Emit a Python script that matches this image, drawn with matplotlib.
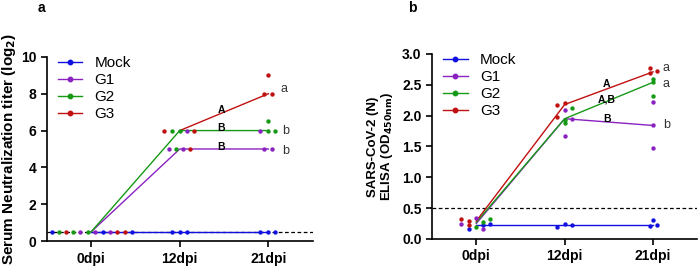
import matplotlib
matplotlib.use('Agg')
import matplotlib.pyplot as plt
from matplotlib.lines import Line2D

plt.rcParams['font.family'] = ['Liberation Sans', 'DejaVu Sans']

days = ['0dpi', '12dpi', '21dpi']
groups = ['Mock', 'G1', 'G2', 'G3']
colors = {'Mock': '#1010e0', 'G1': '#8a22c2', 'G2': '#169a16', 'G3': '#c01010'}

# panel a: neutralization titer (log2), line = group value, dots = animals
titer_line = {
    'Mock': [0.5, 0.5, 0.5],
    'G1': [0.5, 5, 5],
    'G2': [0.5, 6, 6],
    'G3': [None, 6, 8],
}
# (offset from day, value) for each animal
titer_pts = {
    'Mock': [[(-0.44, 0.5), (0.13, 0.5), (0.46, 0.5)],
             [(-0.09, 0.5), (0.0, 0.5), (0.08, 0.5)],
             [(-0.09, 0.5), (0.0, 0.5), (0.08, 0.5)]],
    'G1': [[(-0.12, 0.5), (0.045, 0.5), (0.21, 0.5)],
           [(-0.12, 5), (0.04, 5), (0.08, 6)],
           [(-0.045, 5), (0.04, 5), (-0.09, 6)]],
    'G2': [[(-0.36, 0.5), (-0.2, 0.5), (-0.03, 0.5)],
           [(-0.09, 6), (0.0, 6), (-0.04, 5)],
           [(0.0, 6.5), (0.0, 6), (0.08, 6)]],
    'G3': [[(-0.28, 0.5), (0.29, 0.5), (0.38, 0.5)],
           [(-0.18, 6), (0.165, 6), (0.12, 5)],
           [(0.0, 9), (-0.045, 8), (0.04, 8)]],
}
titer_caps = [('A', 1.47, 7.1), ('B', 1.47, 6.15), ('B', 1.47, 5.1)]
titer_lower = [('a', 2.14, 8.25), ('b', 2.15, 5.95), ('b', 2.15, 4.9)]

# panel b: ELISA OD450
elisa_line = {
    'Mock': [0.22, 0.22, 0.22],
    'G1': [0.25, 1.95, 1.84],
    'G2': [0.27, 1.95, 2.54],
    'G3': [0.29, 2.18, 2.71],
}
elisa_pts = {
    'Mock': [[(-0.087, 0.16), (0.076, 0.23), (0.158, 0.24)],
             [(-0.083, 0.2), (0.0, 0.24), (0.08, 0.23)],
             [(-0.04, 0.215), (0.0, 0.3), (0.04, 0.22)]],
    'G1': [[(-0.17, 0.25), (0.0, 0.335), (0.076, 0.16)],
           [(0.0, 2.09), (0.08, 1.945), (0.0, 1.67)],
           [(0.0, 2.22), (0.0, 1.84), (0.0, 1.47)]],
    'G2': [[(0.0, 0.2), (0.076, 0.28), (0.158, 0.32)],
           [(0.08, 2.13), (0.0, 1.93), (0.0, 1.875)],
           [(0.0, 2.59), (0.0, 2.54), (0.0, 2.31)]],
    'G3': [[(-0.17, 0.32), (-0.087, 0.29), (-0.087, 0.22)],
           [(-0.083, 2.18), (0.0, 2.2), (-0.083, 1.98)],
           [(-0.04, 2.78), (-0.04, 2.69), (0.04, 2.73)]],
}
elisa_caps = [('A', 1.47, 2.51), ('A,B', 1.48, 2.26), ('B', 1.48, 1.94)]
elisa_lower = [('a', 2.11, 2.78), ('a', 2.11, 2.51), ('b', 2.11, 1.84)]


def draw_panel(ax, lines, pts, caps, lower, cutoff):
    ax.axhline(cutoff, color='black', ls=(0, (3, 2)), lw=0.9, zorder=1)
    for g in groups:
        xs = [i for i, v in enumerate(lines[g]) if v is not None]
        ys = [v for v in lines[g] if v is not None]
        ax.plot(xs, ys, color=colors[g], lw=1.0, zorder=3)
        for i, day_pts in enumerate(pts[g]):
            ax.scatter([i + dx for dx, _ in day_pts], [v for _, v in day_pts],
                       s=10, color=colors[g], zorder=4, linewidths=0)
    for t, x, y in caps:
        ax.text(x, y, t, fontsize=7.5, fontweight='bold', ha='center', va='center')
    for t, x, y in lower:
        ax.text(x, y, t, fontsize=9, color='#333333', ha='left', va='center')
    ax.set_xlim(-0.5, 2.5)
    ax.set_xticks(range(3))
    ax.set_xticklabels(days)
    for s in ['top', 'right']:
        ax.spines[s].set_visible(False)
    for s in ['left', 'bottom']:
        ax.spines[s].set_linewidth(1.2)
    ax.tick_params(width=1.2, length=4, labelsize=10)
    for lab in ax.get_xticklabels() + ax.get_yticklabels():
        lab.set_fontweight('bold')
    handles = [Line2D([], [], color=colors[g], lw=1.0, marker='o', ms=3.2)
               for g in groups]
    ax.legend(handles, groups, loc='upper left', bbox_to_anchor=(-0.01, 1.08),
              frameon=False, fontsize=11, handlelength=1.6, labelspacing=0.2,
              handletextpad=0.8)


fig = plt.figure(figsize=(6.98, 2.67), dpi=100)
ax1 = fig.add_axes([0.067, 0.097, 0.381, 0.69])
ax2 = fig.add_axes([0.619, 0.105, 0.38, 0.693])

draw_panel(ax1, titer_line, titer_pts, titer_caps, titer_lower, 0.5)
ax1.set_ylim(0, 10)
ax1.set_yticks(range(0, 11, 2))
for lab in ax1.get_yticklabels():
    lab.set_fontweight('bold')
ax1.set_ylabel('Serum Neutralization titer (log$_\\mathbf{2}$)', fontsize=11,
               fontweight='bold', labelpad=2)

draw_panel(ax2, elisa_line, elisa_pts, elisa_caps, elisa_lower, 0.5)
ax2.set_ylim(0, 3.0)
ax2.set_yticks([0, 0.5, 1.0, 1.5, 2.0, 2.5, 3.0])
ax2.set_yticklabels(['0.0', '0.5', '1.0', '1.5', '2.0', '2.5', '3.0'])
for lab in ax2.get_yticklabels():
    lab.set_fontweight('bold')
ax2.set_ylabel('SARS-CoV-2 (N)\nELISA (OD$_\\mathbf{450nm}$)', fontsize=9.5,
               fontweight='bold', labelpad=5, linespacing=1.0)

fig.text(0.06, 0.995, 'a', fontsize=10, fontweight='bold', ha='center', va='top')
fig.text(0.59, 0.995, 'b', fontsize=10, fontweight='bold', ha='center', va='top')

fig.savefig('out.png', dpi=100)
